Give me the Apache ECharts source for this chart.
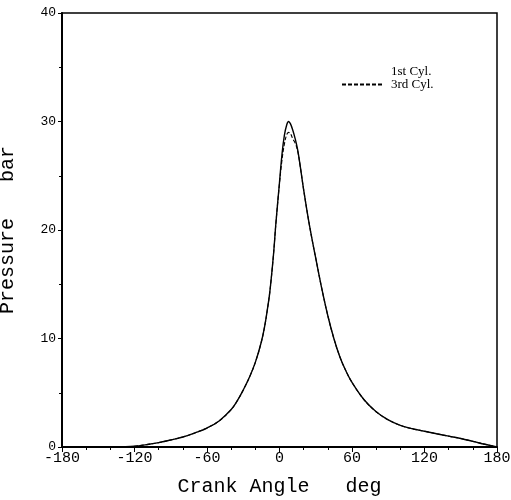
<!DOCTYPE html>
<html>
<head>
<meta charset="utf-8">
<script src="https://cdn.jsdelivr.net/npm/echarts@6/dist/echarts.min.js"></script>
<style>
  html, body { margin: 0; padding: 0; background: #fff; }
  #main { width: 511px; height: 500px; }
</style>
</head>
<body>
<div id="main"></div>
<script>
// crank angle (deg) and cylinder pressure (bar)
var angles = [-180, -170, -160, -150, -140, -130, -120, -110, -100, -90, -80, -70, -60, -50, -40, -35, -30, -25, -20, -15, -12, -10, -8, -5, -3, 0, 2, 4, 6, 7.5, 9, 11, 13, 15, 17, 20, 25, 30, 35, 40, 45, 50, 55, 60, 70, 80, 90, 100, 110, 120, 130, 140, 150, 160, 170, 180];
var cyl1 = [0, 0, 0, 0, 0, 0.02, 0.07, 0.22, 0.4, 0.65, 0.92, 1.3, 1.75, 2.4, 3.45, 4.25, 5.25, 6.4, 7.8, 9.7, 11.3, 12.7, 14.3, 17.7, 20.6, 24.4, 26.9, 28.7, 29.7, 30.0, 29.8, 29.2, 28.4, 27.4, 26.0, 23.7, 20.3, 17.4, 14.6, 12.1, 10.0, 8.3, 7.0, 5.95, 4.35, 3.25, 2.5, 2.0, 1.68, 1.45, 1.22, 1.0, 0.78, 0.52, 0.25, 0];
var cyl3 = [0, 0, 0, 0, 0, 0.02, 0.07, 0.22, 0.4, 0.65, 0.92, 1.3, 1.75, 2.4, 3.45, 4.25, 5.25, 6.4, 7.8, 9.7, 11.3, 12.7, 14.3, 17.7, 20.6, 24.3, 26.4, 27.9, 28.8, 29.0, 28.9, 28.4, 28.0, 27.3, 26.0, 23.7, 20.3, 17.4, 14.6, 12.1, 10.0, 8.3, 7.0, 5.95, 4.35, 3.25, 2.5, 2.0, 1.68, 1.45, 1.22, 1.0, 0.78, 0.52, 0.25, 0];

function pairs(ys) {
    return angles.map(function (a, i) { return [a, ys[i]]; });
}

var myChart = echarts.init(document.getElementById('main'));
var mono = 'Liberation Mono';

option = {
    animation: false,
    backgroundColor: '#fff',
    grid: {
        left: 62, right: 14, top: 13, bottom: 53,
        outerBoundsMode: 'none',
        containLabel: false,
        show: true,
        borderColor: '#000',
        borderWidth: 1.5
    },
    legend: {
        orient: 'vertical',
        left: 336,
        top: 60,
        itemWidth: 40,
        itemHeight: 8,
        itemGap: 0,
        textStyle: { fontFamily: 'Liberation Serif', fontSize: 13, lineHeight: 12, color: '#000', padding: [0, 0, 0, 4] },
        data: [
            { name: '1st Cyl.', lineStyle: { opacity: 0 }, itemStyle: { opacity: 0 } },
            { name: '3rd Cyl.', itemStyle: { opacity: 0 } }
        ]
    },
    xAxis: {
        type: 'value',
        min: -180,
        max: 180,
        interval: 60,
        name: 'Crank Angle   deg',
        nameLocation: 'middle',
        nameGap: 30,
        nameTextStyle: { fontFamily: mono, fontSize: 20, color: '#000' },
        axisLine: { show: true, onZero: false, lineStyle: { color: '#000', width: 2 } },
        axisTick: { show: true, length: 5, lineStyle: { color: '#000', width: 1 } },
        minorTick: { show: true, splitNumber: 3, length: 3, lineStyle: { color: '#000' } },
        axisLabel: { fontFamily: mono, fontSize: 15, color: '#000', margin: 4 },
        splitLine: { show: false }
    },
    yAxis: {
        type: 'value',
        min: 0,
        max: 40,
        interval: 10,
        name: 'Pressure   bar',
        nameLocation: 'middle',
        nameGap: 44,
        nameTextStyle: { fontFamily: mono, fontSize: 20, color: '#000' },
        axisLine: { show: true, onZero: false, lineStyle: { color: '#000', width: 2 } },
        axisTick: { show: true, length: 4, lineStyle: { color: '#000', width: 1 } },
        minorTick: { show: true, splitNumber: 2, length: 3, lineStyle: { color: '#000' } },
        axisLabel: { fontFamily: mono, fontSize: 13, color: '#000', margin: 6 },
        splitLine: { show: false }
    },
    series: [
        {
            name: '1st Cyl.',
            type: 'line',
            smooth: 0.4,
            showSymbol: false,
            symbol: 'none',
            lineStyle: { color: '#000', width: 1.4, type: 'solid' },
            itemStyle: { color: '#000' },
            data: pairs(cyl1)
        },
        {
            name: '3rd Cyl.',
            type: 'line',
            smooth: 0.4,
            showSymbol: false,
            symbol: 'none',
            lineStyle: { color: '#000', width: 1.1, type: [4, 2] },
            itemStyle: { color: '#000' },
            data: pairs(cyl3)
        }
    ]
};

myChart.setOption(option);
</script>
</body>
</html>
